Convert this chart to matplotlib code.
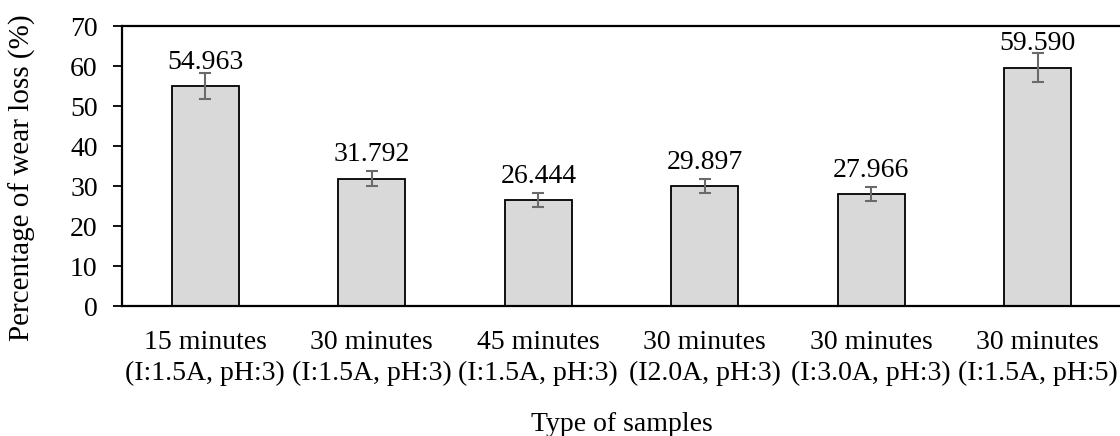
import matplotlib
matplotlib.use("Agg")
import matplotlib.pyplot as plt
import numpy as np

categories = ["15 minutes\n(I:1.5A, pH:3)", "30 minutes\n(I:1.5A, pH:3)",
              "45 minutes\n(I:1.5A, pH:3)", "30 minutes\n(I2.0A, pH:3)",
              "30 minutes\n(I:3.0A, pH:3)", "30 minutes\n(I:1.5A, pH:5)"]
wear_loss = [54.963, 31.792, 26.444, 29.897, 27.966, 59.590]
errors = [3.3, 1.9, 1.7, 1.75, 1.7, 3.6]
value_labels = ["54.963", "31.792", "26.444", "29.897", "27.966", "59.590"]

plt.rcParams['font.family'] = ['Liberation Serif', 'DejaVu Serif']
fs = 20

fig = plt.figure(figsize=(11.2, 4.36), dpi=100)
ax = fig.add_axes([122/1120, 1 - 306/436, (1121 - 122)/1120, (306 - 26)/436])

x = np.arange(len(categories))
ax.bar(x, wear_loss, width=0.4, color="#d9d9d9", edgecolor="black", linewidth=1.3, zorder=2)
ax.errorbar(x, wear_loss, yerr=errors, fmt="none", ecolor="#6a6a6a",
            elinewidth=1.5, capsize=4.5, capthick=1.5, zorder=3)

for xi, v, lab in zip(x, wear_loss, value_labels):
    ax.annotate(lab, (xi, v), xytext=(0, 12.5), textcoords="offset points",
                ha="center", va="baseline", fontsize=fs)

ax.set_xlim(-0.5, len(categories) - 0.5)
ax.set_ylim(0, 70)
ax.set_yticks(range(0, 71, 10))
ax.set_xticks(x)
ax.set_xticklabels(categories, fontsize=fs, linespacing=1.33)
ax.tick_params(axis="y", labelsize=fs, length=6.5, width=1.3, direction="out", pad=11)
ax.tick_params(axis="x", length=0, pad=17)
for s in ["left", "bottom", "top"]:
    ax.spines[s].set_linewidth(1.6)
ax.spines["right"].set_visible(False)

ax.set_ylabel("Percentage of wear loss (%)", fontsize=21)
ax.yaxis.set_label_coords(-0.086, 0.457)
ax.set_xlabel("Type of samples", fontsize=fs, labelpad=19)

fig.savefig("out.png", dpi=100)
